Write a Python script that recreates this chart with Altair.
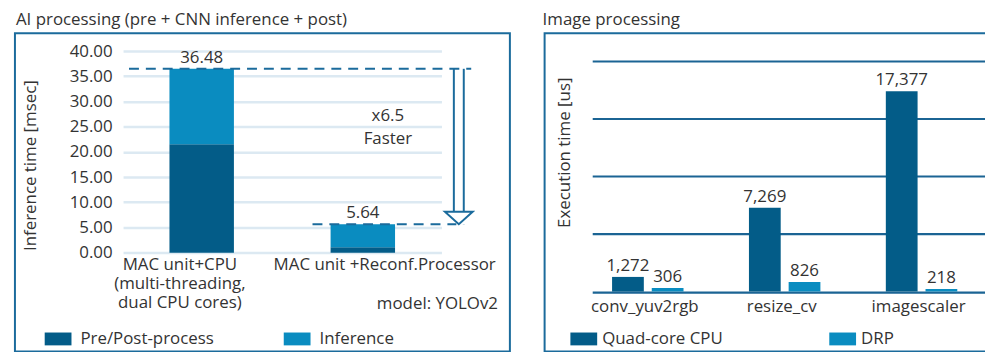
import altair as alt
import pandas as pd

# ---------------- data ----------------
ai_title = "AI processing (pre + CNN inference + post)"
ai_systems = ["MAC unit+CPU|(multi-threading,|dual CPU cores)", "MAC unit +Reconf.Processor"]
ai_series = ["Pre/Post-process", "Inference"]
pre_post_ms = [21.5, 1.1]
inference_ms = [14.98, 4.54]
total_ms = [36.48, 5.64]
ai_ticks = [0, 5, 10, 15, 20, 25, 30, 35, 40]
speedup_text = "x6.5\nFaster"
model_text = "model: YOLOv2"

img_title = "Image processing"
img_functions = ["conv_yuv2rgb", "resize_cv", "imagescaler"]
img_series = ["Quad-core CPU", "DRP"]
cpu_us = [1272, 7269, 17377]
drp_us = [306, 826, 218]
img_ticks = [0, 5000, 10000, 15000, 20000]

# ---------------- styles ----------------
DARK = "#035C88"
LIGHT = "#0A8CC0"
FRAME = "#1B6B9C"
GRID_LIGHT = "#DCE9F2"
GRID_DARK = "#1B6494"
TEXT = "#333333"
FONT = "Open Sans"
FS = 17

# ---------------- tables ----------------
ai_rows = []
for i, s in enumerate(ai_systems):
    ai_rows.append({"system": s, "series": ai_series[0], "ord": 0, "value": pre_post_ms[i]})
    ai_rows.append({"system": s, "series": ai_series[1], "ord": 1, "value": inference_ms[i]})
ai_df = pd.DataFrame(ai_rows)
ai_tot = pd.DataFrame({"system": ai_systems, "value": total_ms})

img_rows = []
for i, f in enumerate(img_functions):
    img_rows.append({"function": f, "series": img_series[0], "value": cpu_us[i]})
    img_rows.append({"function": f, "series": img_series[1], "value": drp_us[i]})
img_df = pd.DataFrame(img_rows)

one = pd.DataFrame({"k": [0]})
RECT = "M-1,-0.48H1V0.48H-1Z"

# ---------------- left panel ----------------
W1, H1 = 321, 203.3
x1 = alt.X("system:N", sort=ai_systems, title=None,
           scale=alt.Scale(paddingInner=0.6, paddingOuter=0.288),
           axis=alt.Axis(labelExpr="split(datum.label, '|')", labelAngle=0, labelPadding=4,
                         labelLineHeight=19, labelFontSize=FS, labelColor=TEXT, ticks=False,
                         domain=False, grid=False, labelBaseline="top", labelLimit=400,
                         labelOffset={"condition": {"test": "datum.index < 0.5", "value": -22}, "value": 22}))
y1 = alt.Y("value:Q", title="Inference time [msec]", stack="zero",
           scale=alt.Scale(domain=[0, 40], nice=False),
           axis=alt.Axis(values=ai_ticks, format=".2f", labelFontSize=FS, labelColor=TEXT,
                         labelPadding=11, ticks=False, domain=False, gridColor=GRID_LIGHT,
                         gridWidth=2.5, titleFontSize=FS, titleFontWeight="normal", titleColor=TEXT,
                         titleX=-93, titleY=115, titleBaseline="middle", titleAlign="center"))

frame1 = alt.Chart(one).mark_rect(fillOpacity=0, stroke=FRAME, strokeWidth=2).encode(
    x=alt.value(-109), x2=alt.value(390), y=alt.value(-18), y2=alt.value(303))
title1 = alt.Chart(pd.DataFrame({"t": [ai_title]})).mark_text(
    align="left", baseline="alphabetic", fontSize=FS, color=TEXT).encode(
    x=alt.value(-108), y=alt.value(-26), text="t:N")

bars1 = alt.Chart(ai_df).mark_bar().encode(
    x=x1, y=y1,
    color=alt.Color("series:N", scale=alt.Scale(domain=ai_series, range=[DARK, LIGHT]),
                    legend=alt.Legend(title=None, orient="none", legendX=-79, legendY=276.5,
                                      direction="horizontal", symbolType=RECT,
                                      symbolSize=729, symbolStrokeWidth=0, labelFontSize=FS,
                                      labelColor=TEXT, labelOffset=9, columnPadding=70,
                                      labelLimit=300)),
    order=alt.Order("ord:Q"))

tot1 = alt.Chart(ai_tot).mark_text(dy=-6, baseline="alphabetic", fontSize=FS, color=TEXT).encode(
    x=x1, y=y1, text=alt.Text("value:Q", format=".2f"))

dash_hi = alt.Chart(pd.DataFrame({"value": [total_ms[0]]})).mark_rule(
    strokeDash=[10, 7], strokeWidth=2, color=FRAME).encode(y=y1, x=alt.value(6), x2=alt.value(351))
dash_lo = alt.Chart(pd.DataFrame({"value": [total_ms[1]]})).mark_rule(
    strokeDash=[10, 7], strokeWidth=2, color=FRAME).encode(y=y1, x=alt.value(191), x2=alt.value(336))

arrow_df = pd.DataFrame({"value": [total_ms[0]], "value2": [total_ms[1]]})
stem_l = alt.Chart(arrow_df).mark_rule(strokeWidth=2, color=FRAME).encode(
    y=y1, y2="value2:Q", x=alt.value(333.5))
stem_r = alt.Chart(arrow_df).mark_rule(strokeWidth=2, color=FRAME).encode(
    y=y1, y2="value2:Q", x=alt.value(343.5))
tip_df = pd.DataFrame({"value": [total_ms[1]]})
cover = alt.Chart(tip_df).mark_point(shape="M-0.55,-0.9H0.55V0H-0.55Z", filled=True, fill="white",
                                     strokeWidth=0, size=784, opacity=1).encode(
    y=y1, x=alt.value(338.5))
head = alt.Chart(tip_df).mark_point(shape="M-1,-0.9L1,-0.9L0,0Z", filled=True, fill="white",
                                    stroke=FRAME, strokeWidth=2, size=784, opacity=1).encode(
    y=y1, x=alt.value(338.5))

speed = alt.Chart(pd.DataFrame({"t": [speedup_text]})).mark_text(
    lineBreak="\n", lineHeight=23, fontSize=FS, color=TEXT, align="center", baseline="middle").encode(
    x=alt.value(267), y=alt.value(66), text="t:N")
model = alt.Chart(pd.DataFrame({"t": [model_text]})).mark_text(
    align="right", baseline="middle", fontSize=FS, color=TEXT).encode(
    x=alt.value(378), y=alt.value(255), text="t:N")

left = alt.layer(frame1, bars1, tot1, stem_l, stem_r, cover, dash_hi, dash_lo, head, speed, model, title1
                 ).properties(width=W1, height=H1)

# ---------------- right panel ----------------
W2, H2 = 410, 242.5
x2 = alt.X("function:N", sort=img_functions, title=None,
           scale=alt.Scale(paddingInner=0.478, paddingOuter=0.2245, align=0.323),
           axis=alt.Axis(labelAngle=0, labelFontSize=FS, labelColor=TEXT, labelPadding=7,
                         ticks=False, domain=False, grid=False, labelOffset=-3))
xo2 = alt.XOffset("series:N", sort=img_series, scale=alt.Scale(paddingInner=0.2, paddingOuter=0))
y2 = alt.Y("value:Q", title="Execution time [us]",
           scale=alt.Scale(domain=[0, 20000], nice=False, range=[H2, 10]),
           axis=alt.Axis(values=img_ticks, labels=False, ticks=False, domain=False,
                         gridColor=GRID_DARK, gridWidth=2.2, titleFontSize=FS,
                         titleFontWeight="normal", titleColor=TEXT, titleX=-28, titleY=102,
                         titleBaseline="middle", titleAlign="center"))

frame2 = alt.Chart(one).mark_rect(fillOpacity=0, stroke=FRAME, strokeWidth=2).encode(
    x=alt.value(-48), x2=alt.value(430), y=alt.value(-18), y2=alt.value(303))
title2 = alt.Chart(pd.DataFrame({"t": [img_title]})).mark_text(
    align="left", baseline="alphabetic", fontSize=FS, color=TEXT).encode(
    x=alt.value(-50), y=alt.value(-26), text="t:N")

bars2 = alt.Chart(img_df).mark_bar().encode(
    x=x2, xOffset=xo2, y=y2,
    color=alt.Color("series:N", scale=alt.Scale(domain=img_series, range=[DARK, LIGHT]),
                    legend=alt.Legend(title=None, orient="none", legendX=-22, legendY=276.5,
                                      direction="horizontal", symbolType=RECT,
                                      symbolSize=729, symbolStrokeWidth=0, labelFontSize=FS,
                                      labelColor=TEXT, labelOffset=5, columnPadding=107,
                                      labelLimit=300)))
lab2 = alt.Chart(img_df).mark_text(dy=-6, baseline="alphabetic", fontSize=FS, color=TEXT).encode(
    x=x2, xOffset=xo2, y=y2, text=alt.Text("value:Q", format=","))

right = alt.layer(frame2, bars2, lab2, title2).properties(width=W2, height=H2)

chart = alt.hconcat(left, right, spacing=32).properties(
    autosize=alt.AutoSizeParams(type="none"),
    padding={"left": 116, "top": 42, "right": 869, "bottom": 302}
).configure(font=FONT).configure_view(stroke=None).resolve_scale(color="independent")

chart.save("out.html", embed_options={"renderer": "svg", "actions": False})
